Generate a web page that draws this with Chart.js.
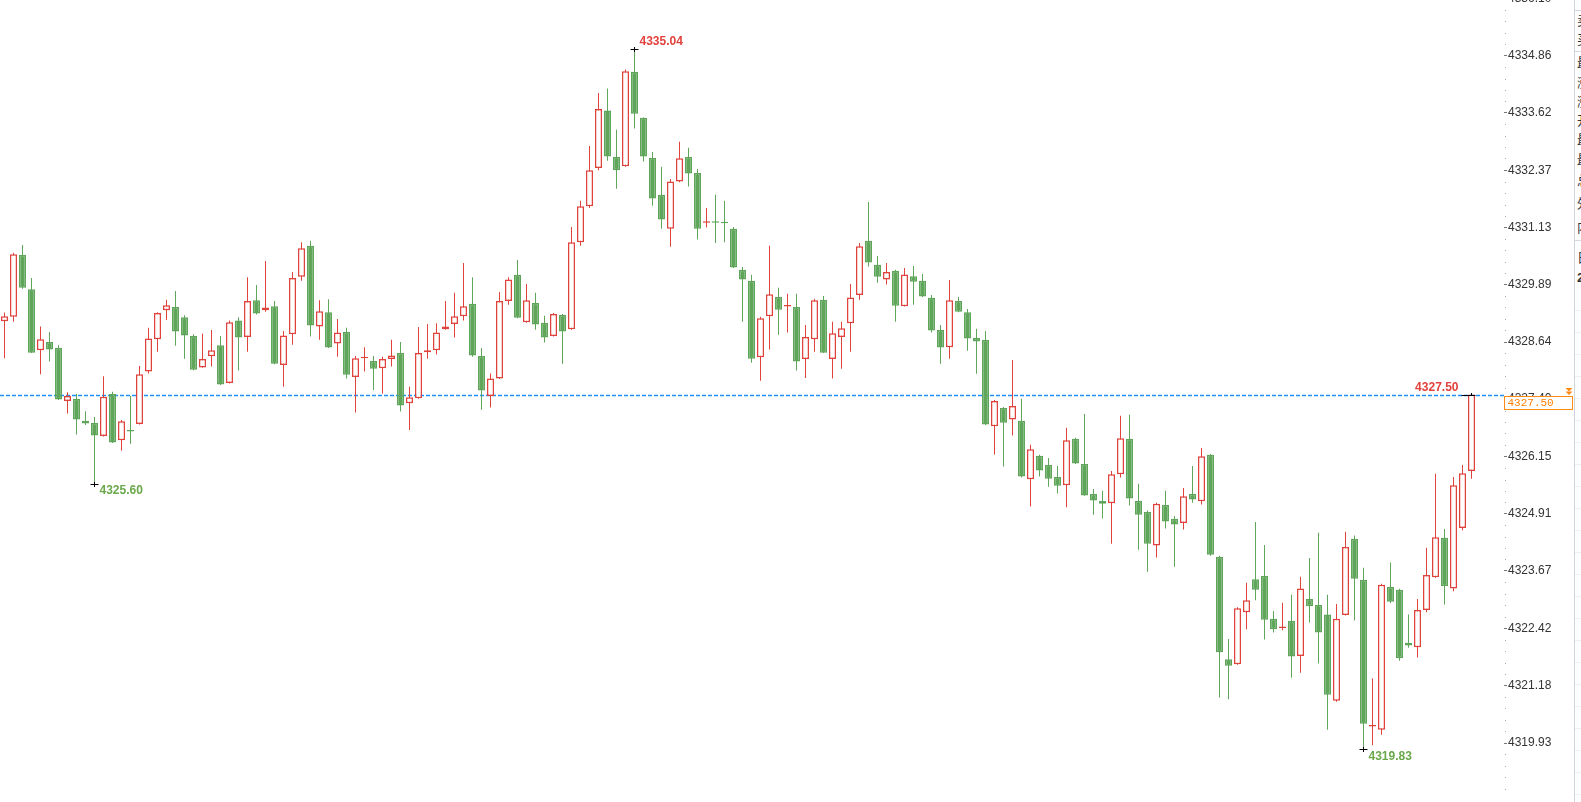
<!DOCTYPE html>
<html>
<head>
<meta charset="utf-8">
<script src="https://cdn.jsdelivr.net/npm/chart.js@4.4.1/dist/chart.umd.min.js"></script>
<style>
html,body{margin:0;padding:0;background:#fff;overflow:hidden}
#wrap{position:relative;width:1581px;height:802px;background:#fff}
#side{position:absolute;left:1574px;top:0;width:7px;height:802px;border-left:1px solid #cfd3da;background:#fff;overflow:hidden;font-family:"Noto Sans CJK SC",sans-serif;font-size:13px;color:#333}
#side .ch{position:absolute;left:2px;line-height:14px;white-space:nowrap}
#side .ln{position:absolute;left:0;width:10px;height:1px;background:#d5d8de}
#side .fl{position:absolute;left:0;width:10px;height:1px;background:#eef0f3}
</style>
</head>
<body>
<div id="wrap">
<canvas id="c" width="1581" height="802"></canvas>
<div id="side"></div>
</div>
<script>
// ---- data ----
const opens = [4329.09,4329.19,4330.53,4329.79,4328.46,4328.64,4328.51,4327.36,4327.41,4326.93,
4326.88,4326.60,4327.51,4326.51,4326.73,4326.86,4328.00,4328.70,4329.33,4329.40,
4329.18,4328.77,4328.09,4328.33,4328.57,4327.75,4329.11,4328.75,4329.55,4329.33,
4329.42,4328.14,4328.81,4330.06,4330.73,4328.98,4329.29,4328.61,4328.86,4327.88,
4328.29,4328.23,4328.07,4328.27,4328.40,4327.31,4327.42,4328.42,4328.46,4328.92,
4329.03,4329.20,4329.47,4328.34,4327.47,4327.85,4329.53,4330.10,4329.07,4329.49,
4329.06,4328.77,4329.23,4328.92,4330.81,4331.59,4332.42,4333.67,4332.66,4332.46,
4334.51,4333.51,4332.64,4331.84,4331.10,4332.13,4332.66,4332.31,4331.23,4331.26,
4331.25,4331.10,4330.21,4329.97,4328.31,4329.20,4329.62,4329.41,4329.40,4328.27,
4328.70,4329.56,4328.27,4328.75,4329.05,4329.66,4330.84,4330.32,4330.00,4330.19,
4329.42,4330.07,4329.97,4329.60,4328.90,4328.53,4329.53,4329.29,4328.73,4328.69,
4326.81,4327.21,4326.96,4326.93,4325.66,4326.17,4325.97,4325.71,4325.53,4326.54,
4325.99,4325.34,4325.19,4325.14,4325.77,4326.54,4325.19,4324.95,4324.22,4325.10,
4324.80,4324.71,4325.34,4325.18,4326.19,4323.97,4321.75,4321.64,4322.77,4323.49,
4323.56,4322.63,4322.43,4322.58,4321.82,4323.06,4322.93,4322.72,4320.85,4322.71,
4324.37,4323.47,4320.29,4320.22,4323.32,4323.26,4322.11,4322.01,4322.82,4323.53,
4324.39,4323.29,4324.60,4325.84];
const highs = [4329.28,4330.58,4330.75,4330.03,4328.98,4328.86,4328.57,4327.55,4327.52,4327.14,
4327.01,4327.90,4327.56,4326.95,4327.47,4328.12,4328.95,4329.29,4329.56,4329.75,
4329.22,4328.81,4328.82,4328.90,4328.77,4329.11,4329.18,4330.05,4329.88,4330.40,
4329.53,4328.88,4330.16,4330.81,4330.84,4329.55,4329.57,4329.14,4328.95,4328.34,
4328.53,4328.34,4328.32,4328.69,4328.64,4327.67,4328.97,4329.03,4329.05,4329.53,
4329.71,4330.36,4330.05,4328.51,4327.96,4329.73,4330.05,4330.42,4329.90,4329.71,
4329.21,4329.27,4329.25,4331.14,4331.71,4332.90,4334.05,4334.15,4333.25,4334.56,
4335.04,4333.52,4332.77,4332.45,4332.18,4332.99,4332.86,4332.40,4331.55,4331.84,
4331.71,4331.14,4330.27,4330.10,4329.19,4330.73,4329.82,4329.69,4329.69,4329.01,
4329.58,4329.64,4329.08,4329.08,4329.90,4330.79,4331.68,4330.51,4330.36,4330.21,
4330.25,4330.29,4330.12,4329.66,4329.01,4329.99,4329.62,4329.36,4328.93,4328.88,
4327.38,4327.23,4328.25,4327.41,4326.41,4326.19,4326.12,4325.95,4326.78,4326.56,
4327.08,4325.45,4325.41,4325.84,4327.04,4327.06,4325.56,4324.98,4325.15,4325.41,
4324.86,4325.47,4325.95,4326.34,4326.21,4324.00,4322.19,4322.88,4323.41,4324.73,
4324.23,4322.80,4322.98,4323.15,4323.54,4323.95,4324.50,4323.15,4322.95,4324.52,
4324.44,4323.74,4321.33,4323.39,4323.85,4323.28,4322.72,4323.06,4324.17,4325.78,
4324.58,4325.71,4325.97,4327.50];
const lows = [4328.29,4329.08,4329.80,4328.40,4327.94,4328.22,4327.38,4327.09,4326.63,4326.84,
4325.60,4326.59,4326.45,4326.28,4326.43,4326.85,4327.96,4328.43,4329.12,4328.56,
4328.28,4328.03,4328.08,4328.11,4327.71,4327.74,4328.02,4328.43,4329.24,4329.30,
4328.16,4327.67,4328.58,4329.97,4328.76,4328.69,4328.51,4328.32,4327.85,4327.11,
4328.00,4327.60,4327.52,4328.11,4327.13,4326.73,4327.41,4328.28,4328.37,4328.91,
4328.74,4329.11,4328.32,4327.17,4327.22,4327.84,4329.45,4329.16,4329.06,4328.91,
4328.63,4328.76,4328.17,4328.91,4330.73,4331.55,4332.37,4332.58,4331.97,4332.45,
4333.28,4332.56,4331.60,4331.10,4330.71,4332.11,4332.02,4330.87,4331.13,4330.79,
4330.81,4330.25,4329.08,4328.19,4327.80,4328.48,4328.80,4328.85,4328.02,4327.86,
4328.43,4328.40,4327.85,4328.06,4328.43,4329.56,4330.28,4329.93,4329.89,4329.08,
4329.41,4329.45,4329.62,4328.85,4328.17,4328.28,4329.29,4328.45,4327.95,4326.84,
4326.20,4325.94,4326.61,4325.70,4325.07,4325.72,4325.50,4325.35,4325.05,4325.99,
4325.30,4324.89,4324.81,4324.26,4325.70,4325.09,4324.13,4323.65,4323.96,4324.59,
4323.76,4324.57,4325.15,4325.11,4324.00,4320.92,4320.88,4321.63,4322.40,4323.03,
4322.18,4322.33,4322.38,4321.35,4321.46,4322.55,4321.66,4320.22,4320.83,4322.70,
4322.59,4319.83,4319.88,4320.11,4322.97,4321.72,4322.00,4321.79,4322.77,4323.52,
4322.94,4323.23,4324.55,4325.67];
const closes = [4329.20,4330.55,4329.82,4328.41,4328.70,4328.48,4327.39,4327.47,4326.96,4326.87,
4326.61,4327.45,4326.46,4326.92,4326.70,4327.94,4328.72,4329.27,4329.44,4328.87,
4328.78,4328.04,4328.27,4328.46,4327.72,4329.07,4328.74,4329.53,4329.26,4329.39,
4328.17,4328.78,4330.03,4330.68,4329.00,4329.31,4328.52,4328.85,4327.93,4328.29,
4328.32,4328.06,4328.27,4328.35,4327.26,4327.44,4328.40,4328.46,4328.85,4328.98,
4329.20,4329.42,4328.35,4327.59,4327.85,4329.53,4330.00,4329.17,4329.55,4329.02,
4328.74,4329.25,4328.87,4330.81,4331.59,4332.37,4333.70,4332.67,4332.37,4334.52,
4333.60,4332.67,4331.76,4331.30,4332.13,4332.63,4332.30,4331.10,4331.25,4331.23,
4331.22,4330.26,4330.00,4328.28,4329.16,4329.68,4329.34,4329.44,4328.22,4328.75,
4329.55,4328.41,4328.83,4328.94,4329.61,4330.72,4330.37,4330.06,4330.16,4329.43,
4330.11,4329.95,4329.63,4328.89,4328.52,4329.55,4329.30,4328.72,4328.65,4326.85,
4327.36,4326.89,4327.25,4325.72,4326.31,4325.85,4325.67,4325.52,4326.51,4326.00,
4325.31,4325.20,4325.13,4325.77,4326.55,4325.24,4324.89,4324.26,4325.13,4324.74,
4324.68,4325.29,4325.22,4326.16,4324.02,4321.90,4321.61,4322.86,4323.03,4323.26,
4322.61,4322.40,4322.46,4321.81,4323.29,4322.90,4322.33,4320.98,4322.63,4324.19,
4323.50,4320.35,4320.32,4323.37,4323.00,4321.77,4322.05,4322.82,4323.58,4324.40,
4323.34,4325.53,4325.79,4327.50];
const yTickValues = [4336.10,4334.86,4333.62,4332.37,4331.13,4329.89,4328.64,4327.40,4326.15,4324.91,4323.67,4322.42,4321.18,4319.93];
const highMarks = [70];
const lowMarks = [10, 151];

// ---- styling ----
const UP = '#e0433c', DOWN = '#5fa55a', UP_TEXT = '#e2413c', DOWN_TEXT = '#6aa84a';
const AXIS_W = 77, STEP = 9, W = 1581, H = 802;
const plotW = W - AXIS_W;
const lastIdx = closes.length - 1;
const lastPrice = closes[lastIdx];

const idx = opens.map((_, i) => i);
const bodyData = idx.map(i => ({x: i, y: [opens[i], closes[i]]}));
const wickData = idx.map(i => ({x: i, y: [lows[i], highs[i]]}));
const isUp = idx.map(i => closes[i] >= opens[i]);

// side panel (cut-off info panel at the right edge)
(function(){
  const side = document.getElementById('side');
  const chars = [['卖',13],['买',32],['最',55],['涨',75],['涨',94],['开',113],['最',132],['最',152],['总',173],['外',196],['内',220],['日',250]];
  chars.forEach(([c,t]) => { const d = document.createElement('div'); d.className='ch'; d.style.top=t+'px'; d.textContent=c; side.appendChild(d); });
  const two = document.createElement('div'); two.className='ch'; two.style.top='271px'; two.style.fontWeight='bold'; two.style.fontFamily='"Liberation Sans",Arial'; two.textContent='2'; side.appendChild(two);
  [10,51,240].forEach(t => { const l=document.createElement('div'); l.className='ln'; l.style.top=t+'px'; side.appendChild(l); });
  for (let t = 310; t < 800; t += 22) { const l=document.createElement('div'); l.className='fl'; l.style.top=t+'px'; side.appendChild(l); }
})();

const overlay = {
  id: 'overlay',
  beforeDatasetsDraw(chart) {
    const {ctx, chartArea, scales} = chart;
    const y = Math.round(scales.y.getPixelForValue(lastPrice)) + 0.5;
    ctx.save();
    ctx.strokeStyle = '#1e8fff';
    ctx.lineWidth = 1.3;
    ctx.setLineDash([4, 2]);
    ctx.beginPath(); ctx.moveTo(chartArea.left, y); ctx.lineTo(chartArea.right, y); ctx.stroke();
    ctx.restore();
  },
  afterDraw(chart) {
    const {ctx, chartArea, scales} = chart;
    const xs = scales.x, ys = scales.y;
    ctx.save();
    // minor ticks
    ctx.fillStyle = '#a8a8a8';
    const minorStep = (yTickValues[0] - yTickValues[1]) / 5;
    for (let k = 0; k < yTickValues.length; k++) {
      for (let m = 1; m < 5; m++) {
        const v = yTickValues[k] - m * minorStep;
        const py = ys.getPixelForValue(v);
        if (py > 0 && py < H) ctx.fillRect(chartArea.right + 1, Math.round(py), 1, 1);
      }
    }
    // markers
    function cross(x, y) {
      ctx.strokeStyle = '#000'; ctx.lineWidth = 1;
      ctx.beginPath();
      ctx.moveTo(x - 4, Math.round(y) + 0.5); ctx.lineTo(x + 4, Math.round(y) + 0.5);
      ctx.moveTo(x, Math.round(y) - 2); ctx.lineTo(x, Math.round(y) + 3);
      ctx.stroke();
    }
    ctx.font = 'bold 12px "Liberation Sans", Arial';
    ctx.textBaseline = 'middle';
    highMarks.forEach(i => {
      const x = xs.getPixelForValue(i), y = ys.getPixelForValue(highs[i]) + 1.5;
      cross(x, y);
      ctx.fillStyle = UP_TEXT; ctx.textAlign = 'left';
      ctx.fillText(highs[i].toFixed(2), x + 5, y - 7.5);
    });
    lowMarks.forEach(i => {
      const x = xs.getPixelForValue(i), y = ys.getPixelForValue(lows[i]) + 1.5;
      cross(x, y);
      ctx.fillStyle = DOWN_TEXT; ctx.textAlign = 'left';
      ctx.fillText(lows[i].toFixed(2), x + 5, y + 7.5);
    });
    // last price marker
    {
      const x = xs.getPixelForValue(lastIdx), y = Math.round(ys.getPixelForValue(highs[lastIdx])) + 0.5;
      ctx.strokeStyle = '#000'; ctx.lineWidth = 1;
      ctx.beginPath(); ctx.moveTo(x - 10, y); ctx.lineTo(x + 4, y); ctx.moveTo(x, y - 2.5); ctx.lineTo(x, y); ctx.stroke();
      ctx.fillStyle = UP_TEXT; ctx.textAlign = 'right';
      ctx.fillText(lastPrice.toFixed(2), x - 13, y - 8);
    }
    // price box on axis
    const py = Math.round(ys.getPixelForValue(lastPrice));
    const bx = chartArea.right + 0.5, by = py + 1.5, bw = 68, bh = 13;
    ctx.fillStyle = '#fff'; ctx.fillRect(bx, by, bw, bh);
    ctx.strokeStyle = '#ff8a14'; ctx.lineWidth = 1; ctx.strokeRect(bx, by, bw, bh);
    ctx.fillStyle = '#ff7f00'; ctx.font = '11px "Liberation Mono", "DejaVu Sans Mono", monospace';
    ctx.textAlign = 'left'; ctx.textBaseline = 'middle';
    ctx.fillText(lastPrice.toFixed(2), bx + 3, by + bh / 2 + 0.5);
    // double down triangles
    ctx.fillStyle = '#ff8a14';
    const tx = 1569;
    [py - 7, py - 3.5].forEach(t => { ctx.beginPath(); ctx.moveTo(tx - 3.5, t); ctx.lineTo(tx + 3.5, t); ctx.lineTo(tx, t + 3.5); ctx.closePath(); ctx.fill(); });
    ctx.restore();
  }
};

new Chart(document.getElementById('c'), {
  type: 'bar',
  data: {
    datasets: [
      {
        label: 'body', data: bodyData, order: 0, grouped: false,
        backgroundColor: idx.map(i => isUp[i] ? '#ffffff' : DOWN),
        borderColor: idx.map(i => isUp[i] ? UP : DOWN),
        borderWidth: 1.5, borderSkipped: false, barThickness: 7, maxBarThickness: 7,
        inflateAmount: 0, minBarLength: 1.5
      },
      {
        label: 'wick', data: wickData, order: 1, grouped: false,
        backgroundColor: idx.map(i => isUp[i] ? UP : DOWN),
        borderWidth: 0, borderSkipped: false, barThickness: 1, maxBarThickness: 1,
        inflateAmount: 0
      }
    ]
  },
  options: {
    responsive: false,
    animation: false,
    events: [],
    layout: {padding: 0},
    plugins: {legend: {display: false}, tooltip: {enabled: false}},
    scales: {
      x: {
        type: 'linear', display: false,
        min: -0.5, max: -0.5 + plotW / STEP,
        offset: false
      },
      y: {
        type: 'linear', position: 'right',
        min: 4318.65, max: 4336.07,
        border: {display: false},
        grid: {drawOnChartArea: false, drawTicks: true, tickLength: 3, tickColor: '#777', tickWidth: 1},
        ticks: {
          autoSkip: false, padding: 1, color: '#333',
          font: {family: '"Liberation Sans", Arial', size: 12},
          callback: v => Number(v).toFixed(2)
        },
        afterBuildTicks: s => { s.ticks = yTickValues.map(v => ({value: v})); },
        afterFit: s => { s.width = AXIS_W; s.paddingTop = 0; s.paddingBottom = 0; }
      }
    }
  },
  plugins: [overlay]
});
</script>
</body>
</html>
